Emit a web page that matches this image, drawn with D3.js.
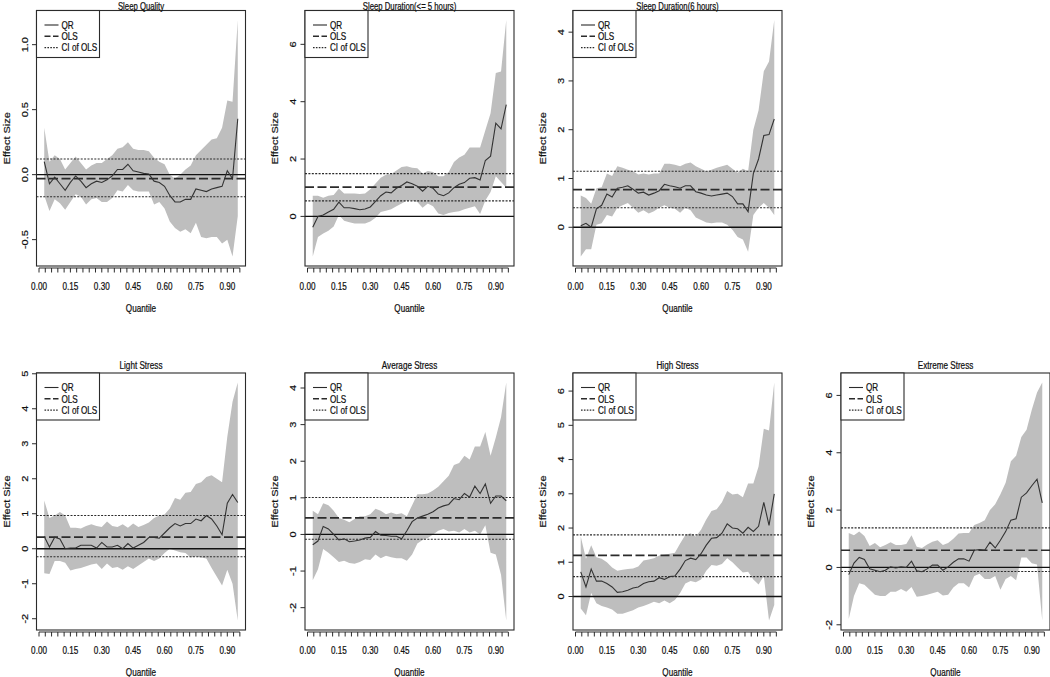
<!DOCTYPE html>
<html><head><meta charset="utf-8">
<script src="https://cdn.jsdelivr.net/npm/d3@7"></script>
<style>
body{margin:0;background:#fff}
text{font-family:"Liberation Sans",Arial,sans-serif;fill:#111;stroke:#111;stroke-width:0.25px;font-size:11px}
</style>
</head><body>
<svg id="c" width="1050" height="677"></svg>
<script>
// ---------------- data ----------------
const quantiles = [0.025,0.05,0.075,0.1,0.125,0.15,0.175,0.2,0.225,0.25,0.275,0.3,0.325,0.35,0.375,0.4,0.425,0.45,0.475,0.5,0.525,0.55,0.575,0.6,0.625,0.65,0.675,0.7,0.725,0.75,0.775,0.8,0.825,0.85,0.875,0.9,0.925,0.95];

const panelTitles = ["Sleep Quality","Sleep Duration(<= 5 hours)","Sleep Duration(6 hours)","Light Stress","Average Stress","High Stress","Extreme Stress"];

const xTicks = [0,0.03,0.06,0.09,0.12,0.15,0.18,0.21,0.24,0.27,0.3,0.33,0.36,0.39,0.42,0.45,0.48,0.51,0.54,0.57,0.6,0.63,0.66,0.69,0.72,0.75,0.78,0.81,0.84,0.87,0.9,0.93,0.96];
const xTickLabels = [[0,"0.00"],[0.15,"0.15"],[0.3,"0.30"],[0.45,"0.45"],[0.6,"0.60"],[0.75,"0.75"],[0.9,"0.90"]];

const yTicks = [[-0.5,0,0.5,1],[0,2,4,6],[0,1,2,3,4],[-2,-1,0,1,2,3,4,5],[-2,-1,0,1,2,3,4],[0,1,2,3,4,5,6],[-2,0,2,4,6]];
const yTickLabels = [["-0.5","0.0","0.5","1.0"],["0","2","4","6"],["0","1","2","3","4"],["-2","-1","0","1","2","3","4","5"],["-2","-1","0","1","2","3","4"],["0","1","2","3","4","5","6"],["-2","0","2","4","6"]];

const olsEstimate = [-0.03, 1.02, 0.77, 0.33, 0.45, 1.20, 0.60];
const olsCILow    = [-0.17, 0.54, 0.40, -0.23, -0.13, 0.58, -0.14];
const olsCIHigh   = [0.12, 1.49, 1.15, 0.95, 1.01, 1.80, 1.38];

const qrSleepQuality = [0.10,-0.07,-0.02,-0.07,-0.12,-0.06,-0.01,-0.05,-0.10,-0.07,-0.05,-0.06,-0.04,-0.01,0.04,0.04,0.08,0.03,0.02,0.01,0.005,-0.05,-0.06,-0.09,-0.16,-0.21,-0.21,-0.19,-0.19,-0.11,-0.12,-0.13,-0.11,-0.10,-0.09,0.03,-0.03,0.43];
const hiSleepQuality = [0.36,0.10,0.15,0.12,0.04,0.09,0.14,0.09,0.04,0.07,0.09,0.09,0.12,0.15,0.20,0.21,0.25,0.20,0.19,0.19,0.18,0.13,0.10,0.08,0.00,-0.03,0.00,0.04,0.07,0.15,0.19,0.23,0.27,0.28,0.36,0.57,0.56,1.19];
const loSleepQuality = [-0.16,-0.28,-0.19,-0.22,-0.27,-0.21,-0.15,-0.17,-0.23,-0.19,-0.18,-0.21,-0.21,-0.18,-0.12,-0.13,-0.08,-0.12,-0.13,-0.13,-0.13,-0.23,-0.21,-0.26,-0.36,-0.41,-0.44,-0.42,-0.45,-0.37,-0.48,-0.49,-0.48,-0.48,-0.53,-0.50,-0.63,-0.32];

const qrSleep5h = [-0.38,0.00,0.05,0.15,0.25,0.50,0.30,0.30,0.27,0.23,0.26,0.33,0.52,0.72,0.85,0.82,0.98,1.08,1.20,1.14,1.05,0.88,1.05,0.98,0.78,0.72,0.82,1.00,1.12,1.18,1.33,1.35,1.27,1.95,2.10,3.25,3.05,3.90];
const hiSleep5h = [0.72,0.72,0.65,0.72,0.75,0.97,0.80,0.80,0.80,0.78,0.80,0.95,1.15,1.35,1.45,1.48,1.60,1.72,1.75,1.70,1.68,1.50,1.58,1.55,1.40,1.40,1.55,1.90,2.05,2.15,2.40,2.40,2.40,3.00,3.60,5.00,5.05,6.85];
const loSleep5h = [-1.40,-0.72,-0.60,-0.50,-0.35,0.05,-0.15,-0.20,-0.25,-0.25,-0.25,-0.18,-0.05,0.15,0.20,0.25,0.35,0.45,0.55,0.55,0.50,0.30,0.45,0.35,0.10,0.05,0.12,0.15,0.18,0.25,0.30,0.35,0.08,0.55,0.85,1.40,1.20,1.00];

const qrSleep6h = [0.03,0.08,0.00,0.38,0.45,0.68,0.62,0.80,0.82,0.85,0.78,0.70,0.72,0.66,0.70,0.75,0.88,0.85,0.83,0.80,0.85,0.85,0.73,0.70,0.66,0.64,0.66,0.68,0.70,0.63,0.48,0.48,0.32,1.10,1.40,1.88,1.90,2.22];
const hiSleep6h = [0.65,0.60,0.48,0.80,0.82,1.10,1.05,1.25,1.22,1.18,1.15,1.08,1.10,1.08,1.10,1.10,1.30,1.30,1.28,1.25,1.30,1.33,1.25,1.20,1.15,1.18,1.22,1.25,1.28,1.20,1.12,1.20,1.15,2.00,2.40,3.20,3.40,4.25];
const loSleep6h = [-0.60,-0.45,-0.45,0.05,0.08,0.25,0.22,0.40,0.45,0.50,0.40,0.30,0.35,0.28,0.33,0.40,0.45,0.40,0.38,0.30,0.40,0.35,0.20,0.15,0.10,0.08,0.10,0.10,0.05,-0.05,-0.20,-0.25,-0.50,0.25,0.40,0.50,0.40,0.25];

const qrLight = [0.35,0.05,0.33,0.28,0.00,0.02,0.02,0.10,0.10,0.10,0.02,0.18,0.05,0.05,0.10,0.00,0.15,0.02,0.10,0.18,0.32,0.32,0.30,0.45,0.60,0.72,0.65,0.72,0.72,0.85,0.80,0.95,0.85,0.65,0.40,1.30,1.55,1.32];
const hiLight = [1.38,0.88,0.95,1.05,0.95,0.60,0.60,0.58,0.65,0.70,0.65,0.62,0.78,0.65,0.62,0.70,0.60,0.72,0.62,0.68,0.75,0.88,0.95,0.98,1.15,1.45,1.40,1.60,1.62,1.85,1.90,2.05,2.10,2.00,1.90,3.20,4.20,4.75];
const loLight = [-0.70,-0.72,-0.35,-0.35,-0.40,-0.62,-0.58,-0.55,-0.50,-0.45,-0.42,-0.58,-0.42,-0.55,-0.52,-0.60,-0.50,-0.58,-0.48,-0.38,-0.28,-0.35,-0.28,-0.12,0.00,-0.05,-0.10,-0.12,-0.25,-0.22,-0.25,-0.28,-0.55,-0.80,-1.05,-0.60,-1.00,-2.05];

const qrAverage = [-0.28,-0.18,0.22,0.15,0.00,-0.15,-0.12,-0.20,-0.18,-0.15,-0.10,-0.08,0.08,-0.02,-0.03,-0.05,-0.05,-0.12,0.10,0.35,0.45,0.50,0.55,0.62,0.72,0.78,0.82,0.98,0.95,1.12,1.02,1.32,1.12,1.38,0.85,1.05,1.05,0.92];
const hiAverage = [0.65,0.55,0.85,0.80,0.65,0.45,0.40,0.33,0.42,0.50,0.50,0.55,0.70,0.65,0.55,0.60,0.55,0.58,0.50,0.80,1.10,1.10,1.12,1.20,1.30,1.45,1.60,1.90,1.95,2.15,2.05,2.40,2.40,2.80,2.15,2.65,3.20,4.15];
const loAverage = [-1.25,-0.95,-0.40,-0.50,-0.62,-0.75,-0.72,-0.78,-0.80,-0.75,-0.68,-0.70,-0.55,-0.65,-0.58,-0.62,-0.65,-0.65,-0.72,-0.55,-0.25,-0.15,-0.10,0.00,0.10,0.15,0.08,0.10,0.05,0.15,0.05,0.10,0.00,0.25,-0.50,-0.55,-1.10,-2.35];

const qrHigh = [0.72,0.28,0.80,0.45,0.45,0.38,0.28,0.12,0.14,0.18,0.25,0.28,0.38,0.43,0.45,0.55,0.50,0.58,0.60,0.80,1.05,1.12,1.08,1.25,1.50,1.70,1.72,1.85,2.12,2.00,1.98,1.85,2.02,1.90,2.05,2.75,2.08,3.00];
const hiHigh = [1.75,1.10,1.50,1.15,1.10,1.00,0.85,0.75,0.78,0.80,0.82,0.88,1.05,1.08,1.12,1.20,1.22,1.25,1.28,1.55,1.80,1.85,1.75,1.95,2.25,2.50,2.55,2.75,3.08,2.98,3.00,2.90,3.30,3.30,3.80,4.90,4.85,6.25];
const loHigh = [-0.35,-0.55,0.10,-0.20,-0.28,-0.32,-0.38,-0.50,-0.50,-0.45,-0.40,-0.32,-0.28,-0.22,-0.15,-0.20,-0.12,-0.20,-0.10,0.10,0.38,0.45,0.42,0.50,0.75,0.92,0.90,0.95,1.12,1.00,0.85,0.70,0.72,0.50,0.35,0.60,-0.70,-0.25];

const qrExtreme = [-0.25,0.15,0.35,0.28,-0.05,-0.10,-0.15,-0.10,0.02,-0.02,0.02,0.00,0.22,-0.12,-0.15,-0.05,0.08,0.08,-0.10,0.02,0.18,0.30,0.30,0.22,0.60,0.62,0.60,0.88,0.68,0.95,1.25,1.65,1.70,2.45,2.60,2.85,3.08,2.25];
const hiExtreme = [1.20,1.12,1.25,1.10,0.75,0.85,0.70,0.78,0.88,0.78,0.78,0.82,1.12,0.72,0.68,0.80,0.90,0.95,0.78,0.85,1.00,1.18,1.20,1.20,1.48,1.55,1.65,2.00,2.20,2.55,2.95,3.70,3.90,4.55,4.80,5.50,6.10,6.45];
const loExtreme = [-1.80,-1.00,-0.55,-0.60,-0.78,-0.95,-1.00,-1.00,-0.85,-0.85,-0.75,-0.85,-0.68,-1.02,-1.00,-0.95,-0.90,-0.85,-0.98,-0.95,-0.70,-0.55,-0.55,-0.70,-0.30,-0.22,-0.40,-0.40,-0.30,-0.78,-0.40,-0.30,-0.45,0.35,0.35,0.15,0.10,-1.85];

const qrSeries = [qrSleepQuality,qrSleep5h,qrSleep6h,qrLight,qrAverage,qrHigh,qrExtreme];
const hiSeries = [hiSleepQuality,hiSleep5h,hiSleep6h,hiLight,hiAverage,hiHigh,hiExtreme];
const loSeries = [loSleepQuality,loSleep5h,loSleep6h,loLight,loAverage,loHigh,loExtreme];

const legendLabels = ["QR","OLS","CI of OLS"];

// ---------------- layout ----------------
const boxLefts = [36.5, 305, 573, 841];
const boxW = 209;
const rowTop = [10.5, 373];
const rowBottom = [266, 630];
const titleGap = [0.7, 4];
const titleSize = [10.5, 11];
const SX = 0.74; // horizontal squeeze of the reference image
const ink = "#2b2b2b";

const svg = d3.select("#c");

function label(g, x, y, s, anchor, rot) {
  return g.append("text")
    .attr("transform", `translate(${x},${y}) scale(${SX},1)` + (rot ? " rotate(-90)" : ""))
    .attr("text-anchor", anchor || "middle")
    .text(s);
}

function pad(ext) { const r = ext[1]-ext[0]; return [ext[0]-0.04*r, ext[1]+0.04*r]; }

panelTitles.forEach((title, i) => {
  const row = i < 3 ? 0 : 1;
  const col = i < 3 ? i : i - 3;
  const L = boxLefts[col], R = L + boxW, T = rowTop[row], B = rowBottom[row];
  const g = svg.append("g");

  const x = d3.scaleLinear().domain(pad(d3.extent(quantiles))).range([L, R]);
  const all = loSeries[i].concat(hiSeries[i]);
  const y = d3.scaleLinear().domain(pad(d3.extent(all))).range([B, T]);

  const clipId = "clip" + i;
  g.append("clipPath").attr("id", clipId).append("rect")
    .attr("x", L).attr("y", T).attr("width", boxW).attr("height", B - T);
  const pg = g.append("g").attr("clip-path", `url(#${clipId})`);

  // confidence band of QR
  const band = quantiles.map((q, k) => ({q, lo: loSeries[i][k], hi: hiSeries[i][k]}));
  pg.append("path").datum(band)
    .attr("d", d3.area().x(d => x(d.q)).y0(d => y(d.lo)).y1(d => y(d.hi)))
    .attr("fill", "#bebebe").attr("stroke", "none");

  // reference lines
  const hline = (v, dash, w, c) => pg.append("line")
    .attr("x1", L).attr("x2", R).attr("y1", y(v)).attr("y2", y(v))
    .attr("stroke", c || ink).attr("stroke-width", w).attr("stroke-dasharray", dash);
  hline(0, null, 1.3, "#111");
  hline(olsEstimate[i], "9,3.5", 1.7);
  hline(olsCIHigh[i], "2,1.4", 1.1);
  hline(olsCILow[i], "2,1.4", 1.1);

  // QR line
  pg.append("path").datum(quantiles.map((q, k) => [q, qrSeries[i][k]]))
    .attr("d", d3.line().x(d => x(d[0])).y(d => y(d[1])))
    .attr("fill", "none").attr("stroke", "#333").attr("stroke-width", 1.1);

  // box
  g.append("rect").attr("x", L).attr("y", T).attr("width", boxW).attr("height", B - T)
    .attr("fill", "none").attr("stroke", ink).attr("stroke-width", 1.1);

  // x axis
  const ax = B + 2;
  const xt = xTicks.filter(v => x(v) <= R);
  g.append("line").attr("x1", x(xt[0])).attr("x2", x(xt[xt.length-1])).attr("y1", ax).attr("y2", ax)
    .attr("stroke", ink).attr("stroke-width", 1);
  g.selectAll(null).data(xt).enter().append("line")
    .attr("x1", d => x(d)).attr("x2", d => x(d)).attr("y1", ax).attr("y2", ax + 4.5)
    .attr("stroke", ink).attr("stroke-width", 1);
  xTickLabels.forEach(([v, s]) => label(g, x(v), B + 24, s));
  label(g, (L + R) / 2, B + 46, "Quantile");

  // y axis
  yTicks[i].forEach((v, k) => {
    g.append("line").attr("x1", L - 4.5).attr("x2", L).attr("y1", y(v)).attr("y2", y(v))
      .attr("stroke", ink).attr("stroke-width", 1);
    label(g, L - 9, y(v), yTickLabels[i][k], "middle", true);
  });
  label(g, L - 27, (T + B) / 2, "Effect Size", "middle", true);

  // title
  label(g, (L + R) / 2, T - titleGap[row], title).style("font-size", titleSize[row] + "px");

  // legend
  const lg = g.append("g");
  lg.append("rect").attr("x", L).attr("y", T).attr("width", 63).attr("height", 47)
    .attr("fill", "#fff").attr("stroke", ink).attr("stroke-width", 1.1);
  const styles = [[null, 1.1], ["6,2.5", 1.5], ["1.6,1.3", 1.1]];
  legendLabels.forEach((s, k) => {
    const yy = T + 14.5 + k * 11.3;
    lg.append("line").attr("x1", L + 8).attr("x2", L + 22).attr("y1", yy).attr("y2", yy)
      .attr("stroke", ink).attr("stroke-width", styles[k][1]).attr("stroke-dasharray", styles[k][0]);
    label(lg, L + 25, yy + 3.8, s, "start");
  });
});
</script>
</body></html>
